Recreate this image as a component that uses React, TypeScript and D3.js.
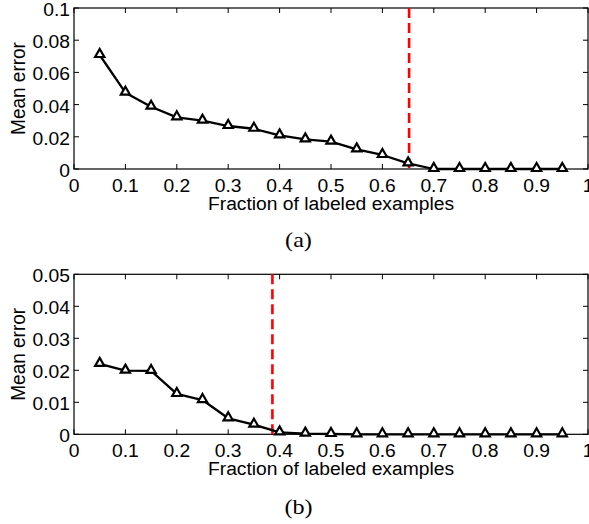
import React from "react";
import * as d3 from "d3";

// fraction of labeled examples (same for both panels)
const fractions = [0.05, 0.1, 0.15, 0.2, 0.25, 0.3, 0.35, 0.4, 0.45, 0.5, 0.55, 0.6, 0.65, 0.7, 0.75, 0.8, 0.85, 0.9, 0.95];
// panel (a) mean error
const errorA = [0.0708, 0.0474, 0.0387, 0.0321, 0.030, 0.0267, 0.025, 0.0209, 0.0184, 0.017, 0.0122, 0.0087, 0.0035, 0, 0, 0, 0, 0, 0];
// panel (b) mean error
const errorB = [0.022, 0.0199, 0.0198, 0.0126, 0.0107, 0.005, 0.003, 0.0006, 0.0002, 0.0001, 0, 0, 0, 0, 0, 0, 0, 0, 0];
const thresholdA = 0.652;
const thresholdB = 0.386;
const xTicks = [0, 0.1, 0.2, 0.3, 0.4, 0.5, 0.6, 0.7, 0.8, 0.9, 1];
const yTicksA = [0, 0.02, 0.04, 0.06, 0.08, 0.1];
const yTicksB = [0, 0.01, 0.02, 0.03, 0.04, 0.05];

const W = 589;
const H = 524;
const left = 74;
const right = 588;
const sx = 1.07; // text looks a bit stretched sideways in the picture
const font = "'Liberation Sans', Arial, Helvetica, sans-serif";

function Panel({ top, bottom, values, yMax, yTicks, threshold, caption, captionY }) {
  const x = d3.scaleLinear().domain([0, 1]).range([left, right]);
  const y = d3.scaleLinear().domain([0, yMax]).range([bottom, top]);
  const line = d3.line<number>().x((d, i) => x(fractions[i])).y((d) => y(d));
  const tick = 5;
  const yFmt = (v) => (v === 0 ? "0" : String(+v.toFixed(2)));

  return (
    <g>
      {/* box */}
      <rect x={left} y={top} width={right - left} height={bottom - top} fill="none" stroke="#000" strokeWidth={1.2} />
      {/* x ticks, inward on both sides */}
      {xTicks.map((t) => (
        <g key={"x" + t}>
          <line x1={x(t)} x2={x(t)} y1={bottom} y2={bottom - tick} stroke="#000" strokeWidth={1} />
          <line x1={x(t)} x2={x(t)} y1={top} y2={top + tick} stroke="#000" strokeWidth={1} />
          <text transform={`translate(${x(t)},${bottom + 22.5}) scale(${sx},1)`} textAnchor="middle" fontSize={18} fontFamily={font} fill="#000">
            {String(t)}
          </text>
        </g>
      ))}
      {/* y ticks */}
      {yTicks.map((t) => (
        <g key={"y" + t}>
          <line x1={left} x2={left + tick} y1={y(t)} y2={y(t)} stroke="#000" strokeWidth={1} />
          <line x1={right} x2={right - tick} y1={y(t)} y2={y(t)} stroke="#000" strokeWidth={1} />
          <text transform={`translate(70,${y(t) + 8}) scale(${sx},1)`} textAnchor="end" fontSize={18} fontFamily={font} fill="#000">
            {yFmt(t)}
          </text>
        </g>
      ))}
      {/* threshold */}
      <line x1={x(threshold)} x2={x(threshold)} y1={top} y2={bottom} stroke="#ff0000" strokeWidth={2.6} strokeDasharray="10,5" />
      {/* series */}
      <path d={line(values) || ""} fill="none" stroke="#000" strokeWidth={2.3} strokeLinejoin="round" />
      {values.map((v, i) => {
        const cx = x(fractions[i]);
        const cy = y(v);
        return (
          <path
            key={i}
            d={`M${cx},${cy - 6}L${cx + 4.6},${cy + 2}L${cx - 4.6},${cy + 2}Z`}
            fill="#fff"
            stroke="#000"
            strokeWidth={2.2}
            strokeLinejoin="miter"
          />
        );
      })}
      {/* axis labels */}
      <text transform={`translate(${(left + right) / 2},${bottom + 40.5}) scale(${sx},1)`} textAnchor="middle" fontSize={18} fontFamily={font} fill="#000">
        Fraction of labeled examples
      </text>
      <text transform={`translate(25,${(top + bottom) / 2}) scale(${sx},1) rotate(-90)`} textAnchor="middle" fontSize={19} fontFamily={font} fill="#000">
        Mean error
      </text>
      <text transform={`translate(298.5,${captionY}) scale(1.15,1)`} textAnchor="middle" fontSize={21} fontFamily="'Liberation Serif', 'Times New Roman', serif" fill="#000">
        {caption}
      </text>
    </g>
  );
}

export default function App() {
  return (
    <svg width={W} height={H} style={{ position: "absolute", left: 0, top: 0, background: "#fff" }}>
      <rect x={0} y={0} width={W} height={H} fill="#fff" />
      <Panel top={8} bottom={169} values={errorA} yMax={0.1} yTicks={yTicksA} threshold={thresholdA} caption="(a)" captionY={247} />
      <Panel top={274.3} bottom={434.3} values={errorB} yMax={0.05} yTicks={yTicksB} threshold={thresholdB} caption="(b)" captionY={514} />
    </svg>
  );
}
